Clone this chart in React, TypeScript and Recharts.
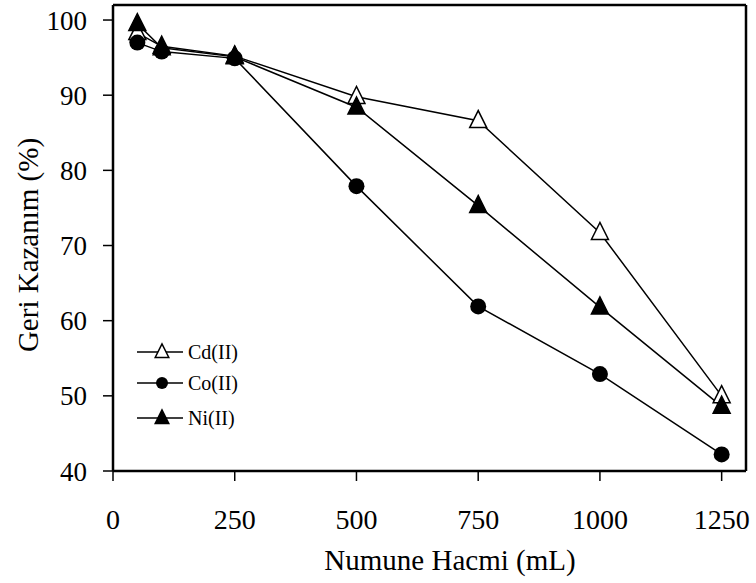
import { LineChart, Line, XAxis, YAxis, ReferenceLine } from "recharts";

const volumes = [50, 100, 250, 500, 750, 1000, 1250];
const cdValues = [98.3, 96.5, 95.2, 89.8, 86.6, 71.7, 50.0];
const coValues = [97.0, 95.8, 94.9, 77.9, 61.9, 52.9, 42.2];
const niValues = [99.5, 96.3, 95.1, 88.4, 75.3, 61.8, 48.6];
const xTicks = [0, 250, 500, 750, 1000, 1250];
const yTicks = [40, 50, 60, 70, 80, 90, 100];

const SERIES = [
  { key: "cd", label: "Cd(II)", shape: "openTri" },
  { key: "co", label: "Co(II)", shape: "circle" },
  { key: "ni", label: "Ni(II)", shape: "tri" },
];

const data = volumes.map((v, i) => ({ vol: v, cd: cdValues[i], co: coValues[i], ni: niValues[i] }));

const FONT = "'Liberation Serif', 'Times New Roman', serif";

function Marker({ shape, cx, cy, s = 1 }: { shape: string; cx: number; cy: number; s?: number }) {
  if (shape === "circle") return <circle cx={cx} cy={cy} r={8 * s} fill="#000" />;
  const h = 17 * s, w = 17 * s;
  const pts = `${cx},${cy - h * 0.6} ${cx - w / 2},${cy + h * 0.4} ${cx + w / 2},${cy + h * 0.4}`;
  return <polygon points={pts} fill={shape === "tri" ? "#000" : "#fff"} stroke="#000" strokeWidth={1.5} />;
}

const makeDot = (shape: string) => (props: any) => {
  const { cx, cy, index } = props;
  if (cx == null || cy == null) return <g key={index} />;
  return <Marker key={index} shape={shape} cx={cx} cy={cy} />;
};

const legendRows = [15, 46, 81];

function LegendBox() {
  return (
    <svg width={150} height={110} style={{ position: "absolute", left: 135, top: 337 }}>
      {SERIES.map((s, i) => {
        const y = legendRows[i];
        return (
          <g key={s.key}>
            <line x1={2} x2={48} y1={y} y2={y} stroke="#000" strokeWidth={1.5} />
            <Marker shape={s.shape} cx={27} cy={y} s={s.shape === "circle" ? 0.75 : 0.8} />
            <text x={53} y={y + 7} fontFamily={FONT} fontSize={20} fill="#000">{s.label}</text>
          </g>
        );
      })}
    </svg>
  );
}

export default function App() {
  return (
    <div style={{ position: "absolute", left: 0, top: 0, width: 756, height: 583, background: "#fff" }}>
      <LineChart width={756} height={583} data={data} margin={{ top: 5, right: 10, left: 0, bottom: 0 }}>
        <XAxis
          dataKey="vol" type="number" domain={[0, 1300]} ticks={xTicks} height={112}
          tick={{ fontSize: 28, fill: "#000", fontFamily: FONT }} fontSize={28} tickSize={10}
          axisLine={{ stroke: "#000", strokeWidth: 2.5 }} tickLine={{ stroke: "#000", strokeWidth: 1.5 }}
          tickMargin={28}
          label={{
            content: () => (
              <text x={450} y={570} textAnchor="middle" fontFamily={FONT} fontSize={29} fill="#000">Numune Hacmi (mL)</text>
            ),
          }}
        />
        <YAxis
          type="number" domain={[40, 102]} ticks={yTicks} width={113} allowDataOverflow
          tick={{ fontSize: 27, fill: "#000", fontFamily: FONT }} fontSize={27} tickSize={10}
          axisLine={{ stroke: "#000", strokeWidth: 2.5 }} tickLine={{ stroke: "#000", strokeWidth: 1.5 }}
          tickMargin={16}
          label={{
            content: () => (
              <text x={38} y={245} transform="rotate(-90 38 245)" textAnchor="middle" fontFamily={FONT} fontSize={29} fill="#000">Geri Kazanım (%)</text>
            ),
          }}
        />
        <ReferenceLine y={102} stroke="#000" strokeWidth={2.5} />
        <ReferenceLine x={1300} stroke="#000" strokeWidth={2.5} />
        {SERIES.map((s) => (
          <Line
            key={s.key} dataKey={s.key} name={s.label} type="linear" stroke="#000" strokeWidth={1.5}
            dot={makeDot(s.shape)} activeDot={false} isAnimationActive={false}
          />
        ))}
      </LineChart>
      <LegendBox />
    </div>
  );
}
